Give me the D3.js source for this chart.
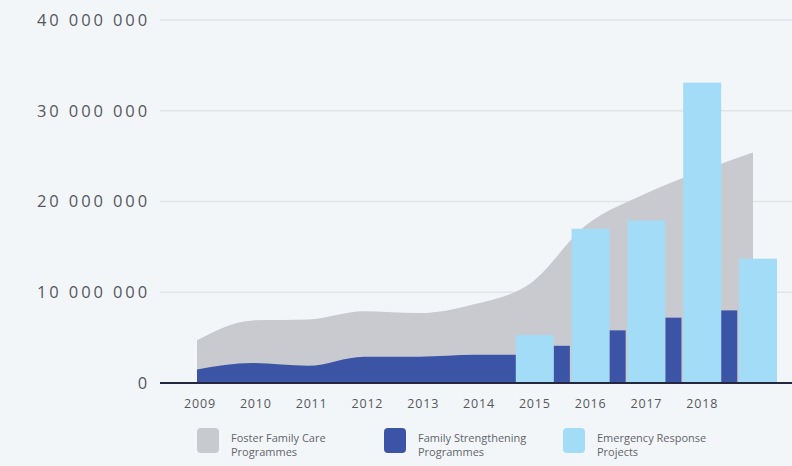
<!DOCTYPE html>
<html>
<head>
<meta charset="utf-8">
<script src="https://cdn.jsdelivr.net/npm/d3@7"></script>
<style>
  html, body { margin: 0; padding: 0; background: #f3f6f9; }
  svg { display: block; }
  text { font-family: "Open Sans", "DejaVu Sans", sans-serif; }
</style>
</head>
<body>
<svg id="chart" width="792" height="466"></svg>
<script>
// ---- data ----
const years = [2009, 2010, 2011, 2012, 2013, 2014, 2015, 2016, 2017, 2018, 2019];
const fosterCare = [4.7e6, 6.9e6, 7.0e6, 7.9e6, 7.7e6, 8.7e6, 11.0e6, 17.4e6, 20.7e6, 23.2e6, 25.4e6];
const strengthYears = [2009, 2010, 2011, 2012, 2013, 2014, 2015];
const strengthArea = [1.5e6, 2.2e6, 1.9e6, 2.9e6, 2.9e6, 3.1e6, 3.1e6];
const emergencyYears = [2015, 2016, 2017, 2018, 2019];
const emergency = [5.3e6, 17.0e6, 17.9e6, 33.1e6, 13.7e6];
const strengthBarYears = [2015, 2016, 2017, 2018];
const strengthBars = [4.1e6, 5.8e6, 7.2e6, 8.0e6];
const yTicks = [0, 10e6, 20e6, 30e6, 40e6];
const xTickYears = [2009, 2010, 2011, 2012, 2013, 2014, 2015, 2016, 2017, 2018];
const xTickLabels = ["2009", "2010", "2011", "2012", "2013", "2014", "2015", "2016", "2017", "2018"];
const legendLabels = [["Foster Family Care", "Programmes"], ["Family Strengthening", "Programmes"], ["Emergency Response", "Projects"]];

// ---- style ----
const C_GRAY = "#c8cad0", C_DARK = "#3b54a6", C_LIGHT = "#a3dcf6";

const svg = d3.select("#chart");
const y = d3.scaleLinear().domain([0, 40e6]).range([383, 20]);
const xBar = d3.scaleLinear().domain([2009, 2019]).range([200, 758]);
const xArea = d3.scaleLinear().domain([2009, 2019]).range([197, 753]);
const fmt = v => d3.format(",")(v).replace(/,/g, " ");

// grid lines
svg.append("g").selectAll("line").data(yTicks.filter(d => d > 0)).join("line")
  .attr("x1", 160).attr("x2", 792)
  .attr("y1", d => y(d)).attr("y2", d => y(d))
  .attr("stroke", "#e1e4e8").attr("stroke-width", 1.5);

// y labels
svg.append("g").selectAll("text").data(yTicks).join("text")
  .attr("x", 150).attr("y", d => y(d)).attr("dy", "0.35em")
  .attr("text-anchor", "end")
  .attr("font-size", 16.5)
  .attr("letter-spacing", 2.9)
  .attr("fill", "#55585d")
  .text(d => fmt(d));

// gray area
const areaGray = d3.area().x((d, i) => xArea(years[i])).y0(y(0)).y1(d => y(d)).curve(d3.curveMonotoneX);
svg.append("path").datum(fosterCare).attr("d", areaGray).attr("fill", C_GRAY);

// dark area
const areaDark = d3.area().x((d, i) => xArea(strengthYears[i])).y0(y(0)).y1(d => y(d)).curve(d3.curveMonotoneX);
svg.append("path").datum(strengthArea).attr("d", areaDark).attr("fill", C_DARK);

// light bars
const lightW = 38, darkW = 16;
svg.append("g").selectAll("rect").data(emergency).join("rect")
  .attr("x", (d, i) => xBar(emergencyYears[i]) - lightW / 2)
  .attr("width", lightW)
  .attr("y", d => y(d)).attr("height", d => y(0) - y(d))
  .attr("fill", C_LIGHT);

// dark bars
const step = xBar(2010) - xBar(2009);
svg.append("g").selectAll("rect").data(strengthBars).join("rect")
  .attr("x", (d, i) => xBar(strengthBarYears[i]) + step * 0.485 - darkW / 2)
  .attr("width", darkW)
  .attr("y", d => y(d)).attr("height", d => y(0) - y(d))
  .attr("fill", C_DARK);

// baseline
svg.append("line").attr("x1", 160).attr("x2", 792).attr("y1", y(0)).attr("y2", y(0))
  .attr("stroke", "#23283f").attr("stroke-width", 2);

// x labels
svg.append("g").selectAll("text").data(xTickYears).join("text")
  .attr("x", d => xBar(d)).attr("y", 408)
  .attr("text-anchor", "middle")
  .attr("font-size", 12.5)
  .attr("letter-spacing", 0.8)
  .attr("fill", "#55585d")
  .text((d, i) => xTickLabels[i]);

// legend
const legColors = [C_GRAY, C_DARK, C_LIGHT];
const legX = [197, 384, 563];
const leg = svg.append("g").selectAll("g").data(legendLabels).join("g")
  .attr("transform", (d, i) => `translate(${legX[i]},428)`);
leg.append("rect").attr("width", 22).attr("height", 25).attr("rx", 4)
  .attr("fill", (d, i) => legColors[i]);
leg.append("text").attr("x", 34).attr("y", 14).attr("font-size", 11).attr("fill", "#62656a")
  .text(d => d[0]);
leg.append("text").attr("x", 34).attr("y", 28).attr("font-size", 11).attr("fill", "#62656a")
  .text(d => d[1]);
</script>
</body>
</html>
